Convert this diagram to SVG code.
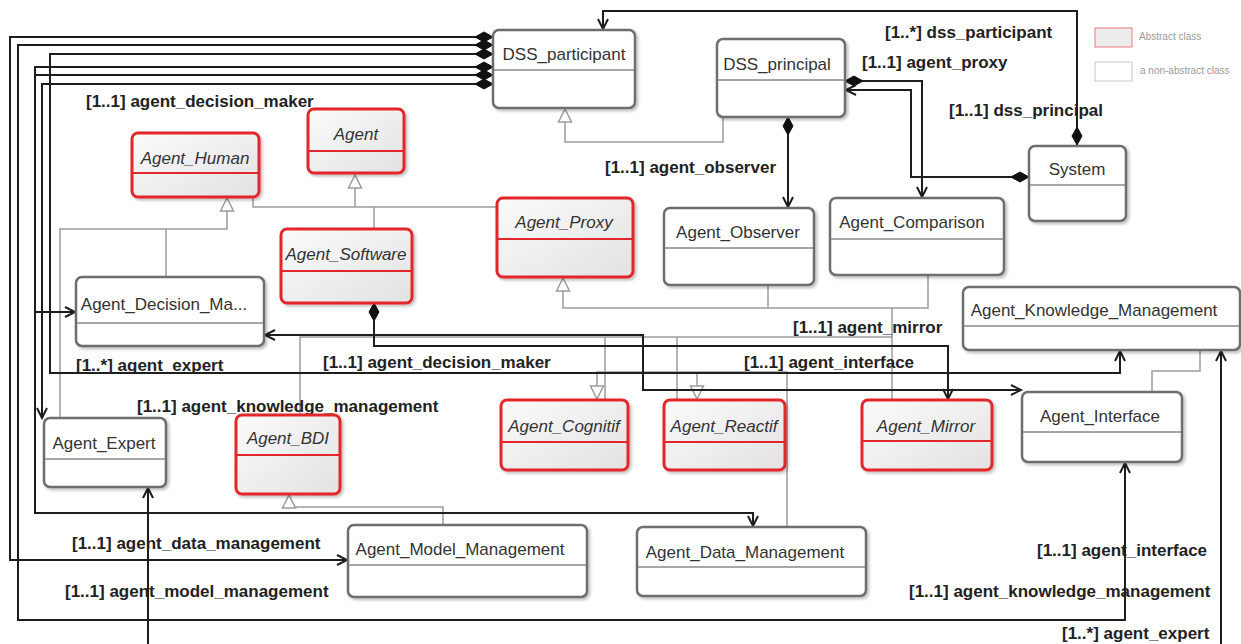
<svg xmlns="http://www.w3.org/2000/svg" width="1241" height="644" viewBox="0 0 1241 644">
<style>
.box{fill:#fff;stroke:#6e6e6e;stroke-width:2.5;filter:url(#sh)}
.abs{fill:url(#gr);stroke:#e3262b;stroke-width:3;filter:url(#sh)}
.dv{stroke:#8a8a8a;stroke-width:1.5}
.adv{stroke:#e3262b;stroke-width:2}
.nm{font-family:"Liberation Sans",Arial,sans-serif;font-size:17px;fill:#333;text-anchor:middle}
.it{font-style:italic}
.lb{font-family:"Liberation Sans",Arial,sans-serif;font-weight:bold;font-size:17px;fill:#222}
.c{fill:none;stroke:#1e1e1e;stroke-width:2}
.g{fill:none;stroke:#9c9c9c;stroke-width:1.5}
.cd{marker-start:url(#dia);marker-end:url(#arr)}
.lg{font-family:"Liberation Sans",Arial,sans-serif;font-size:10px;fill:#9a9a9a}
</style>
<defs>
<linearGradient id="gr" x1="0" y1="0" x2="1" y2="1">
<stop offset="0" stop-color="#fbfbfb"/><stop offset="1" stop-color="#e2e2e2"/>
</linearGradient>
<filter id="sh" x="-10%" y="-10%" width="125%" height="130%">
<feDropShadow dx="2" dy="2" stdDeviation="1.5" flood-color="#000" flood-opacity="0.25"/>
</filter>
<marker id="arr" viewBox="-20 -10 40 20" markerWidth="40" markerHeight="20" refX="0" refY="0" markerUnits="userSpaceOnUse" orient="auto-start-reverse" overflow="visible">
<path d="M-10,-5 L0,0 L-10,5" fill="none" stroke="#1e1e1e" stroke-width="2"/>
</marker>
<marker id="dia" viewBox="-20 -10 40 20" markerWidth="40" markerHeight="20" refX="0" refY="0" markerUnits="userSpaceOnUse" orient="auto" overflow="visible">
<path d="M0,0 L9,-5 L18,0 L9,5 Z" fill="#111" stroke="#111" stroke-width="1"/>
</marker>
<marker id="tri" viewBox="-20 -10 40 20" markerWidth="40" markerHeight="20" refX="0" refY="0" markerUnits="userSpaceOnUse" orient="auto" overflow="visible">
<path d="M-13,-6.5 L0,0 L-13,6.5 Z" fill="#fff" stroke="#9c9c9c" stroke-width="1.5"/>
</marker>
</defs>
<rect width="1241" height="644" fill="#fff"/>

<g id="connectors">
<!-- generalizations -->
<path class="g" d="M723,117 V142 H565 V109" marker-end="url(#tri)"/>
<path class="g" d="M60,418 V229 H227 V198" marker-end="url(#tri)"/>
<path class="g" d="M166,277 V229"/>
<path class="g" d="M253,197 V207 H600 V198"/>
<path class="g" d="M374,229 V207"/>
<path class="g" d="M355,207 V175" marker-end="url(#tri)"/>
<path class="g" d="M928,275 V308 H563 V278" marker-end="url(#tri)"/>
<path class="g" d="M768,285 V308"/>
<path class="g" d="M892,308 V400"/>
<path class="g" d="M300,415 V337 H893"/>
<path class="g" d="M605,337 V400"/>
<path class="g" d="M677,337 V400"/>
<path class="g" d="M787,527 V372 H597 V399" marker-end="url(#tri)"/>
<path class="g" d="M697,372 V399" marker-end="url(#tri)"/>
<path class="g" d="M443,524 V507 H289 V495" marker-end="url(#tri)"/>
<path class="g" d="M1152,392 V371 H1200 V350"/>
<!-- associations -->
<path class="c cd" d="M493,37 H10 V560 H347"/>
<path class="c cd" d="M493,45 H18 V620 H1125 V463"/>
<path class="c cd" d="M493,54 H50 V373 H1120 V351"/>
<path class="c cd" d="M493,67 H35 V513 H753 V526"/>
<path class="c cd" d="M493,75 H35 V312 H75"/>
<path class="c cd" d="M493,84 H42 V418"/>
<path class="c" d="M148,644 V488" marker-end="url(#arr)"/>
<path class="c" d="M1221,644 V351" marker-end="url(#arr)"/>
<path class="c" d="M1021,390 H643 V335 H265" marker-start="url(#arr)" marker-end="url(#arr)"/>
<path class="c cd" d="M374,303 V346 H948 V399"/>
<path class="c cd" d="M788,117 V207"/>
<path class="c cd" d="M1077,145 V11 H603 V29"/>
<path class="c cd" d="M845,81 H922 V197"/>
<path class="c cd" d="M1029,177 H911 V90 H846"/>
</g>

<g id="labels">
<text class="lb" x="86" y="107">[1..1] agent_decision_maker</text>
<text class="lb" x="885" y="38">[1..*] dss_participant</text>
<text class="lb" x="862" y="68">[1..1] agent_proxy</text>
<text class="lb" x="949" y="116">[1..1] dss_principal</text>
<text class="lb" x="605" y="173">[1..1] agent_observer</text>
<text class="lb" x="76" y="371">[1..*] agent_expert</text>
<text class="lb" x="323" y="368">[1..1] agent_decision_maker</text>
<text class="lb" x="137" y="412">[1..1] agent_knowledge_management</text>
<text class="lb" x="793" y="333">[1..1] agent_mirror</text>
<text class="lb" x="744" y="368">[1..1] agent_interface</text>
<text class="lb" x="72" y="549">[1..1] agent_data_management</text>
<text class="lb" x="65" y="597">[1..1] agent_model_management</text>
<text class="lb" x="1037" y="556">[1..1] agent_interface</text>
<text class="lb" x="909" y="597">[1..1] agent_knowledge_management</text>
<text class="lb" x="1062" y="639">[1..*] agent_expert</text>
</g>

<g id="n-dss-participant"><rect class="box" x="493" y="30" width="142" height="78" rx="6"/><line class="dv" x1="494" y1="70" x2="634" y2="70"/><text class="nm" x="564" y="60">DSS_participant</text></g>
<g id="n-dss-principal"><rect class="box" x="717" y="39" width="128" height="78" rx="6"/><line class="dv" x1="718" y1="80" x2="844" y2="80"/><text class="nm" x="777" y="70">DSS_principal</text></g>
<g id="n-system"><rect class="box" x="1029" y="146" width="97" height="75" rx="6"/><line class="dv" x1="1030" y1="185" x2="1125" y2="185"/><text class="nm" x="1077" y="175">System</text></g>
<g id="n-agent-human"><rect class="abs" x="132" y="133" width="127" height="64" rx="6"/><line class="adv" x1="133" y1="173" x2="258" y2="173"/><text class="nm it" x="195" y="164">Agent_Human</text></g>
<g id="n-agent"><rect class="abs" x="308" y="109" width="96" height="64" rx="6"/><line class="adv" x1="309" y1="151" x2="403" y2="151"/><text class="nm it" x="356" y="140">Agent</text></g>
<g id="n-agent-proxy"><rect class="abs" x="497" y="198" width="136" height="79" rx="6"/><line class="adv" x1="498" y1="239" x2="632" y2="239"/><text class="nm it" x="564" y="228">Agent_Proxy</text></g>
<g id="n-agent-observer"><rect class="box" x="664" y="208" width="150" height="77" rx="6"/><line class="dv" x1="665" y1="248" x2="813" y2="248"/><text class="nm" x="738" y="238">Agent_Observer</text></g>
<g id="n-agent-comparison"><rect class="box" x="830" y="198" width="174" height="77" rx="6"/><line class="dv" x1="831" y1="239" x2="1003" y2="239"/><text class="nm" x="912" y="228">Agent_Comparison</text></g>
<g id="n-agent-software"><rect class="abs" x="281" y="229" width="131" height="74" rx="6"/><line class="adv" x1="282" y1="271" x2="411" y2="271"/><text class="nm it" x="346" y="260">Agent_Software</text></g>
<g id="n-agent-decision"><rect class="box" x="76" y="277" width="188" height="69" rx="6"/><line class="dv" x1="77" y1="323" x2="263" y2="323"/><text class="nm" x="164" y="310">Agent_Decision_Ma...</text></g>
<g id="n-agent-km"><rect class="box" x="963" y="287" width="277" height="63" rx="6"/><line class="dv" x1="964" y1="326" x2="1239" y2="326"/><text class="nm" x="1094" y="316">Agent_Knowledge_Management</text></g>
<g id="n-agent-expert"><rect class="box" x="44" y="418" width="122" height="69" rx="6"/><line class="dv" x1="45" y1="459" x2="165" y2="459"/><text class="nm" x="104" y="449">Agent_Expert</text></g>
<g id="n-agent-bdi"><rect class="abs" x="236" y="415" width="104" height="79" rx="6"/><line class="adv" x1="237" y1="455" x2="339" y2="455"/><text class="nm it" x="288" y="444">Agent_BDI</text></g>
<g id="n-agent-cognitif"><rect class="abs" x="501" y="400" width="127" height="70" rx="6"/><line class="adv" x1="502" y1="442" x2="627" y2="442"/><text class="nm it" x="564" y="432">Agent_Cognitif</text></g>
<g id="n-agent-reactif"><rect class="abs" x="664" y="400" width="121" height="70" rx="6"/><line class="adv" x1="665" y1="442" x2="784" y2="442"/><text class="nm it" x="724" y="432">Agent_Reactif</text></g>
<g id="n-agent-mirror"><rect class="abs" x="862" y="400" width="130" height="70" rx="6"/><line class="adv" x1="863" y1="441" x2="991" y2="441"/><text class="nm it" x="926" y="432">Agent_Mirror</text></g>
<g id="n-agent-interface"><rect class="box" x="1022" y="392" width="160" height="70" rx="6"/><line class="dv" x1="1023" y1="432" x2="1181" y2="432"/><text class="nm" x="1100" y="422">Agent_Interface</text></g>
<g id="n-agent-model"><rect class="box" x="348" y="525" width="239" height="72" rx="6"/><line class="dv" x1="349" y1="565" x2="586" y2="565"/><text class="nm" x="460" y="555">Agent_Model_Management</text></g>
<g id="n-agent-data"><rect class="box" x="637" y="527" width="229" height="69" rx="6"/><line class="dv" x1="638" y1="567" x2="865" y2="567"/><text class="nm" x="745" y="558">Agent_Data_Management</text></g>

<g id="legend">
<rect x="1095" y="28" width="37" height="19" fill="#ececec" stroke="#e87b7e" stroke-width="1"/>
<text class="lg" x="1139" y="40">Abstract class</text>
<rect x="1095" y="62" width="37" height="19" fill="#fff" stroke="#c8c8c8" stroke-width="1"/>
<text class="lg" x="1140" y="74">a non-abstract class</text>
</g>
</svg>
